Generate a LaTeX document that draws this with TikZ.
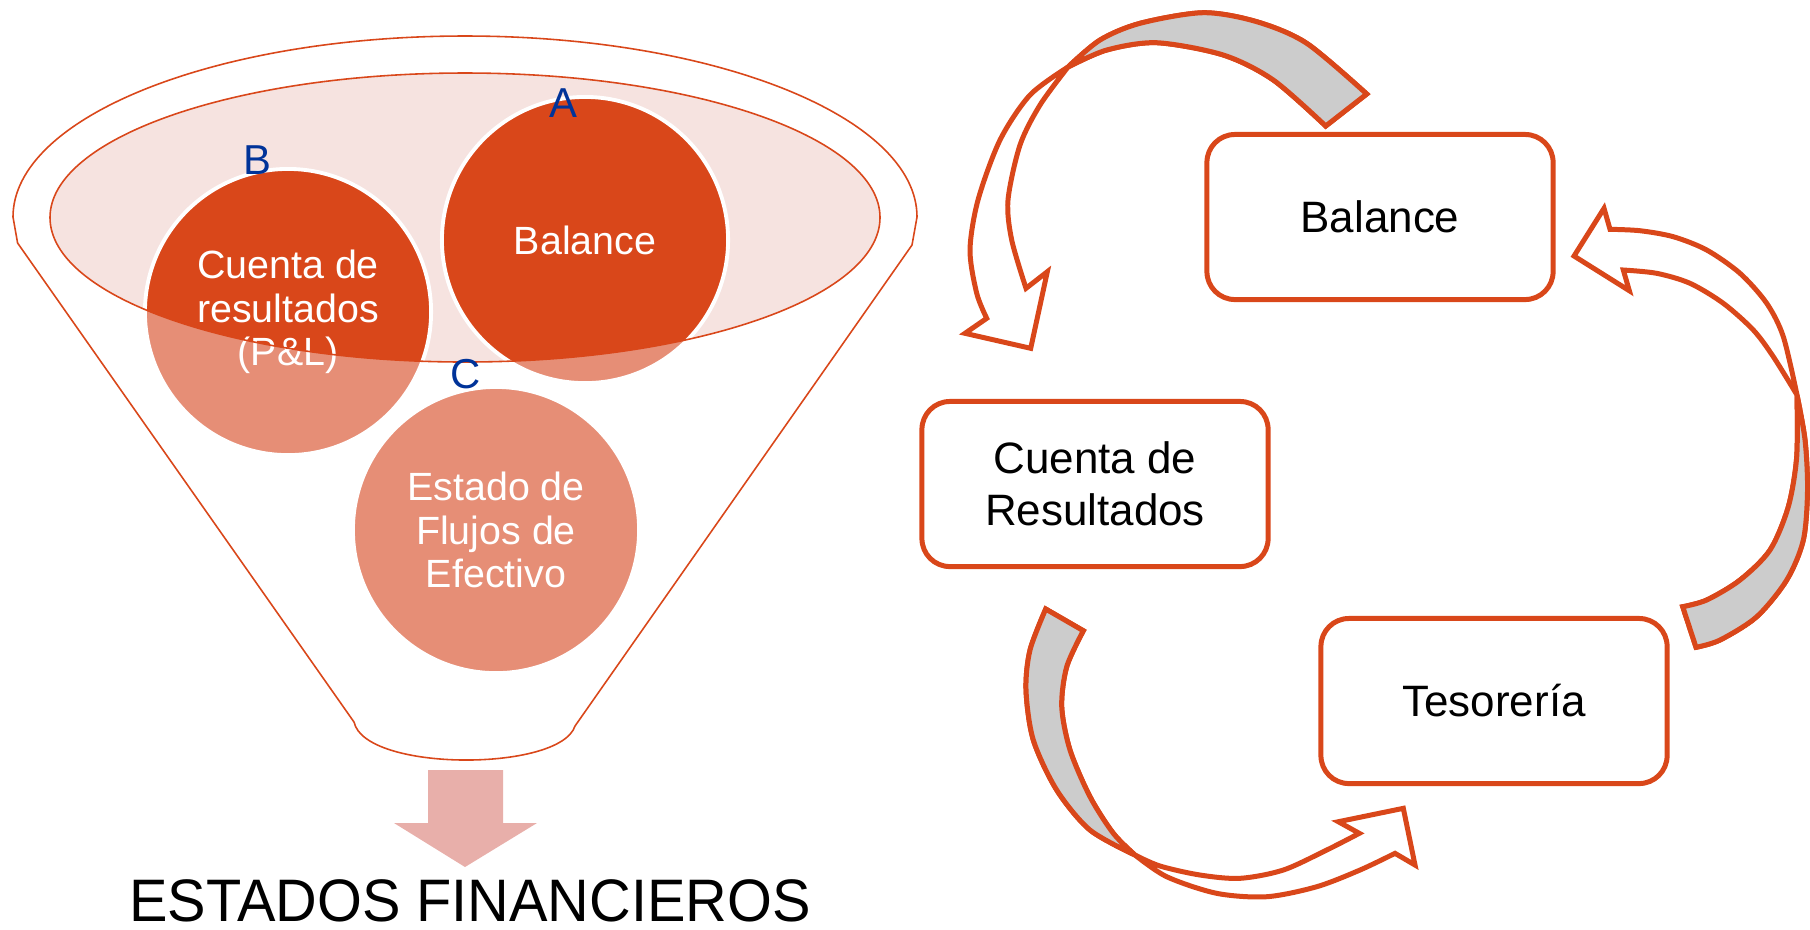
\documentclass[tikz,border=0pt]{standalone}
\usepackage{fontspec}
\setmainfont{Liberation Sans}
\definecolor{naranja}{HTML}{D9471A}
\definecolor{salmon}{HTML}{E68E76}
\definecolor{rosa}{HTML}{F6E3E0}
\definecolor{flecha}{HTML}{E8AFAA}
\definecolor{azul}{HTML}{003399}
\definecolor{gris}{HTML}{CCCCCC}

\begin{document}
\begin{tikzpicture}[x=0.01cm, y=-0.01cm,
		circulo/.style={circle, minimum size=2.86cm, inner sep=0pt, fill=salmon, draw=white, line width=1.1pt,
			text=white, align=center, font=\fontsize{11.2}{12.4}\selectfont,
			path picture={\fill[naranja] (centro) ellipse [x radius=4.15cm, y radius=1.445cm];}},
		letra/.style={text=azul, inner sep=0pt, font=\fontsize{11.9}{12}\selectfont},
		caja/.style={draw=naranja, line width=1.42pt, rounded corners=0.28cm, fill=white,
			minimum width=3.46cm, minimum height=1.65cm, align=center, font=\fontsize{12.5}{14.8}\selectfont},
		cinta/.style={draw=naranja, line width=1.42pt, fill=white}]
	\useasboundingbox (0,0) rectangle (1810,929);
	\coordinate (centro) at (465,217.5);

	\draw[naranja, line width=0.45pt]
		(17.6,243) -- (13,217)
		arc[start angle=180, end angle=360, x radius=452, y radius=181]
		-- (912,245) -- (575,726)
		.. controls (560,772) and (365,772) .. (354,722)
		-- cycle;
	\fill[rosa] (centro) ellipse [x radius=415, y radius=144.5];

	\node[circulo] (balance) at (585,240) {Balance};
	\node[circulo] (resultados) at (288,312) {Cuenta de\\resultados\\(P\&L)};
	\node[circulo] (flujos) at (496,530) {Estado de\\Flujos de\\Efectivo};
	\draw[naranja, line width=0.45pt] (centro) ellipse [x radius=415, y radius=144.5];

	\node[letra] (letraA) at (563,103) {A};
	\node[letra] (letraB) at (257,160) {B};
	\node[letra] (letraC) at (466,374) {C};

	\fill[flecha] (428,770) -- (503,770) -- (503,823) -- (537,823) -- (465,867) -- (394,823) -- (428,823) -- cycle;
	\node[anchor=base, inner sep=0pt, font=\fontsize{16.4}{18}\selectfont] (titulo) at (470,921)
		{\scalebox{1}[1.04]{ESTADOS FINANCIEROS}};

	\node[caja] (bal) at (1380,217) {Balance};
	\node[caja] (cta) at (1095,484) {Cuenta de\\Resultados};
	\node[caja] (tes) at (1494,701) {Tesorería};

	% bal -> cta
	\filldraw[cinta]
		plot[smooth] coordinates {(1366.7,94) (1306.7,43.3) (1256.7,21.7) (1203.3,12.7) (1140,23.3) (1100,40) (1068,67)}
		-- plot[smooth] coordinates {(1068,67) (1040,105) (1020,145) (1008,200) (1011.7,240) (1026,288.3)}
		-- (1047.3,271.7) -- (1030.7,348.3) -- (965,333.3) -- (986.7,318.3)
		-- plot[smooth] coordinates {(986.7,318.3) (976.7,293.3) (970,250) (978,200) (1000,140) (1030,95) (1068,67)}
		-- plot[smooth] coordinates {(1068,67) (1106.7,50) (1156.7,42.7) (1223.3,55) (1273.3,80) (1325.7,126)}
		-- cycle;
	\filldraw[cinta, fill=gris]
		plot[smooth] coordinates {(1366.7,94) (1306.7,43.3) (1256.7,21.7) (1203.3,12.7) (1140,23.3) (1100,40) (1068,67)}
		-- plot[smooth] coordinates {(1068,67) (1106.7,50) (1156.7,42.7) (1223.3,55) (1273.3,80) (1325.7,126)}
		-- cycle;

	% cta -> tes
	\filldraw[cinta]
		plot[smooth] coordinates {(1045.7,609) (1030,650) (1026,690) (1033.3,740) (1056.7,790) (1090,830) (1135,855)}
		-- plot[smooth] coordinates {(1135,855) (1160,866) (1200,875) (1240,878.3) (1283.3,870) (1326.7,850) (1359.3,833.3)}
		-- (1338.3,821.7) -- (1403.3,808.3) -- (1415,865) -- (1395,853.3)
		-- plot[smooth] coordinates {(1395,853.3) (1360,870) (1316.7,886.7) (1266.7,896.7) (1216.7,893.3) (1166.7,876.7) (1135,855)}
		-- plot[smooth] coordinates {(1135,855) (1113.3,833.3) (1090,796.7) (1070,750) (1061.7,706.7) (1066.7,666.7) (1083.3,630.7)}
		-- cycle;
	\filldraw[cinta, fill=gris]
		plot[smooth] coordinates {(1045.7,609) (1030,650) (1026,690) (1033.3,740) (1056.7,790) (1090,830) (1135,855)}
		-- plot[smooth] coordinates {(1135,855) (1113.3,833.3) (1090,796.7) (1070,750) (1061.7,706.7) (1066.7,666.7) (1083.3,630.7)}
		-- cycle;

	% tes -> bal
	\filldraw[cinta]
		plot[smooth] coordinates {(1696,647.3) (1720,640) (1756.7,616.7) (1786.7,580) (1803.3,540) (1807.5,490) (1805,440) (1797,395)}
		-- plot[smooth] coordinates {(1797,395) (1773.3,356.7) (1753.3,330) (1723.3,303.3) (1690,283.3) (1656.7,273.3) (1623.3,270)}
		-- (1629.3,290.7) -- (1574,256) -- (1604,208.3) -- (1610,229.3)
		-- plot[smooth] coordinates {(1610,229.3) (1640,230.7) (1673.3,236.7) (1706.7,250) (1740,273.3) (1766.7,303.3) (1783.3,336.7) (1797,395)}
		-- plot[smooth] coordinates {(1797,395) (1796.7,456.7) (1788.3,506.7) (1770,550) (1740,580) (1706.7,600) (1682.7,606.7)}
		-- cycle;
	\filldraw[cinta, fill=gris]
		plot[smooth] coordinates {(1696,647.3) (1720,640) (1756.7,616.7) (1786.7,580) (1803.3,540) (1807.5,490) (1805,440) (1797,395)}
		-- plot[smooth] coordinates {(1797,395) (1796.7,456.7) (1788.3,506.7) (1770,550) (1740,580) (1706.7,600) (1682.7,606.7)}
		-- cycle;
\end{tikzpicture}
\end{document}
